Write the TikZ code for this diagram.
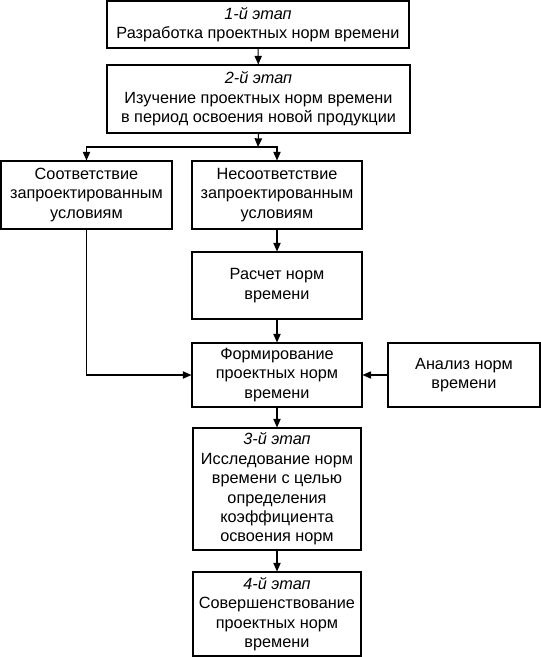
\documentclass[tikz,border=0pt]{standalone}
\usepackage{fontspec}
\setmainfont{Liberation Sans}
\usepackage{tikz}
\usetikzlibrary{arrows.meta}

\begin{document}
\begin{tikzpicture}[x=0.75pt,y=-0.75pt,
    stagebox/.style={draw, line width=0.8pt, align=center, inner sep=2pt,
        font=\fontsize{12.2}{14.6}\selectfont},
    flow/.style={line width=0.8pt, -{Triangle[length=6.5pt,width=5.5pt]}}]
                \useasboundingbox (0,0) rectangle (541,657);

                % Stages and boxes
                \node[stagebox, minimum width=302*0.75pt, minimum height=47*0.75pt] (s1) at (258,24.5)
                    {\textit{1-й этап}\\Разработка проектных норм времени};
                \node[stagebox, minimum width=303*0.75pt, minimum height=68*0.75pt] (s2) at (258.5,99)
                    {\textit{2-й этап}\\Изучение проектных норм времени\\в период освоения новой продукции};
                \node[stagebox, minimum width=171*0.75pt, minimum height=68*0.75pt] (match) at (86.5,195)
                    {Соответствие\\запроектированным\\условиям};
                \node[stagebox, minimum width=170*0.75pt, minimum height=68*0.75pt] (mismatch) at (277,195)
                    {Несоответствие\\запроектированным\\условиям};
                \node[stagebox, minimum width=170*0.75pt, minimum height=67*0.75pt] (calc) at (277,285.5)
                    {Расчет норм\\времени};
                \node[stagebox, minimum width=170*0.75pt, minimum height=64*0.75pt] (form) at (277,375)
                    {Формирование\\проектных норм\\времени};
                \node[stagebox, minimum width=152*0.75pt, minimum height=64*0.75pt] (analysis) at (464,375)
                    {Анализ норм\\времени};
                \node[stagebox, minimum width=168*0.75pt, minimum height=122*0.75pt] (s3) at (277,489)
                    {\textit{3-й этап}\\Исследование норм\\времени с целью\\определения\\коэффициента\\освоения норм};
                \node[stagebox, minimum width=168*0.75pt, minimum height=84*0.75pt] (s4) at (277,614)
                    {\textit{4-й этап}\\Совершенствование\\проектных норм\\времени};

                % Connectors
                \coordinate (fork) at (258,147);
                \draw[flow] (s1) -- (s2);
                \draw[flow] (s2.south) -- (fork);
                \draw[flow] (fork) -| (match.north);
                \draw[flow] (fork) -| (mismatch.north);
                \draw[flow] (mismatch) -- (calc);
                \draw[flow] (calc) -- (form);
                \draw[flow] (match.south) |- (form.west);
                \draw[flow] (analysis) -- (form);
                \draw[flow] (form) -- (s3);
                \draw[flow] (s3) -- (s4);
            \end{tikzpicture}
\end{document}
